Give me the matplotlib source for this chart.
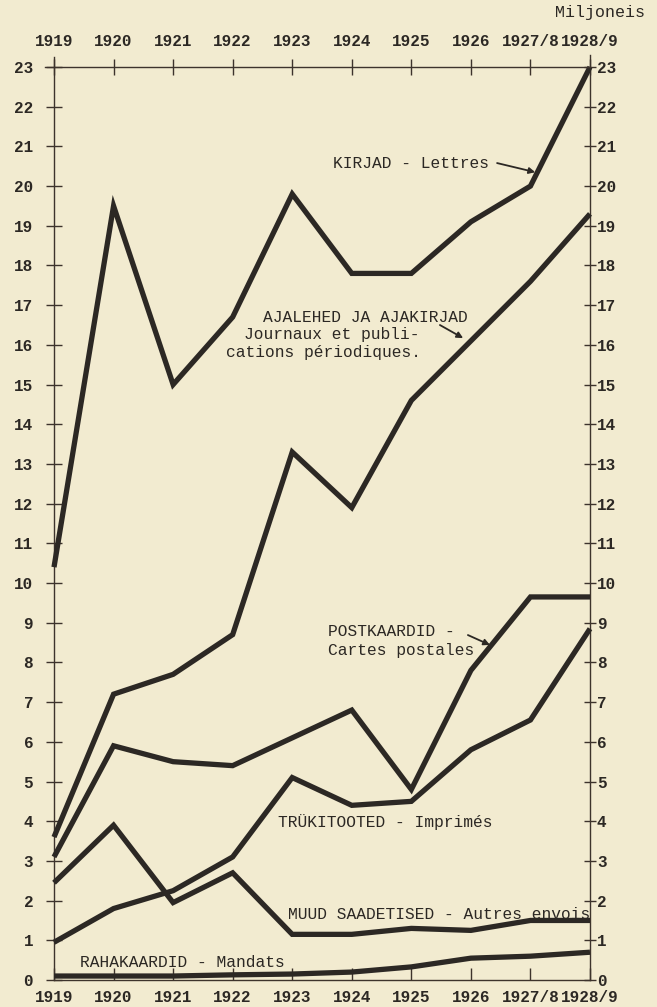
import matplotlib
matplotlib.use("Agg")
import matplotlib.pyplot as plt
import numpy as np

# ---- data (millions) ----
years = ['1919', '1920', '1921', '1922', '1923', '1924', '1925', '1926', '1927/8', '1928/9']
lettres = [10.4, 19.5, 15.0, 16.7, 19.8, 17.8, 17.8, 19.1, 20.0, 23.0]
journaux = [3.6, 7.2, 7.7, 8.7, 13.3, 11.9, 14.6, 16.1, 17.6, 19.3]
postkaardid = [3.1, 5.9, 5.5, 5.4, 6.1, 6.8, 4.8, 7.8, 9.65, 9.65]
imprimes = [0.95, 1.8, 2.25, 3.1, 5.1, 4.4, 4.5, 5.8, 6.55, 8.85]
muud = [2.45, 3.9, 1.95, 2.7, 1.15, 1.15, 1.3, 1.25, 1.5, 1.5]
mandats = [0.1, 0.1, 0.1, 0.13, 0.15, 0.2, 0.33, 0.55, 0.6, 0.7]
yticks = list(range(0, 24))

BG = '#f2ebd0'
INK = '#2c2824'
AXC = '#3d332c'
FONT = ['Liberation Mono', 'DejaVu Sans Mono']

fig = plt.figure(figsize=(6.57, 10.07), dpi=100, facecolor=BG)
W, H = 657, 1007
x0, x1, ytop, ybot = 54, 590, 67, 980
ax = fig.add_axes([x0 / W, 1 - ybot / H, (x1 - x0) / W, (ybot - ytop) / H])
ax.set_facecolor(BG)

x = np.arange(len(years))
for series in [lettres, journaux, postkaardid, imprimes, muud, mandats]:
    ax.plot(x, series, color=INK, lw=3.8, solid_joinstyle='miter', solid_capstyle='butt',
            clip_on=False, zorder=3)

ax.set_xlim(0, len(years) - 1)
ax.set_ylim(0, 23)

for s in ax.spines.values():
    s.set_color(AXC)
    s.set_linewidth(1.0)
ax.spines['left'].set_bounds(0, 23.25)
ax.spines['right'].set_bounds(0, 23.3)
ax.spines['top'].set_bounds(-0.15, len(years) - 1)

# left ticks
ax.set_yticks(yticks)
ax.set_yticklabels([str(v) for v in yticks])
ax.tick_params(axis='y', left=True, right=False, direction='inout', length=12, width=1.0,
               pad=9, colors=AXC, labelsize=11.5)
# bottom ticks
ax.set_xticks(x)
ax.set_xticklabels(years)
ax.tick_params(axis='x', bottom=True, top=False, direction='in', length=8.5, width=1.0,
               pad=7, colors=AXC, labelsize=11.5)

# right axis
ax2 = ax.twinx()
ax2.set_ylim(0, 23)
ax2.set_yticks(yticks)
ax2.set_yticklabels([str(v) for v in yticks])
ax2.tick_params(axis='y', right=True, direction='inout', length=8, width=1.0, pad=1,
                colors=AXC, labelsize=11.5)
for s in ax2.spines.values():
    s.set_visible(False)

# top axis
ax3 = ax.secondary_xaxis('top')
ax3.set_xticks(x)
ax3.set_xticklabels(years)
ax3.tick_params(axis='x', direction='inout', length=11.5, width=1.0, pad=7,
                colors=AXC, labelsize=11.5)
ax3.spines['top'].set_visible(False)

for a in [ax, ax2, ax3]:
    for lab in a.get_xticklabels() + a.get_yticklabels():
        lab.set_family(FONT)
        lab.set_color(INK)
        lab.set_fontweight('bold')

# annotations
tk = dict(family=FONT, fontsize=11.7, color=INK, ha='left', va='center', zorder=4)
ax.text(4.68, 20.58, 'KIRJAD - Lettres', **tk)
ax.text(3.51, 16.70, 'AJALEHED JA AJAKIRJAD', **tk)
ax.text(3.19, 16.25, 'Journaux et publi-', **tk)
ax.text(2.89, 15.82, 'cations périodiques.', **tk)
ax.text(4.60, 8.77, 'POSTKAARDID -', **tk)
ax.text(4.60, 8.31, 'Cartes postales', **tk)
ax.text(3.76, 3.98, 'TRÜKITOOTED - Imprimés', **tk)
ax.text(3.93, 1.64, 'MUUD SAADETISED - Autres envois', **tk)
ax.text(0.44, 0.43, 'RAHAKAARDID - Mandats', **tk)

ap = dict(arrowstyle='-|>', color=INK, lw=1.3, mutation_scale=9, shrinkA=0, shrinkB=0)
ax.annotate('', xy=(8.08, 20.35), xytext=(7.44, 20.58), arrowprops=ap)
ax.annotate('', xy=(6.87, 16.17), xytext=(6.48, 16.50), arrowprops=ap)
ax.annotate('', xy=(7.32, 8.44), xytext=(6.95, 8.69), arrowprops=ap)

fig.text(645 / W, 1 - 13 / H, 'Miljoneis', family=FONT, fontsize=12, color=INK,
         ha='right', va='center')

fig.savefig('out.png', dpi=100, facecolor=BG)
